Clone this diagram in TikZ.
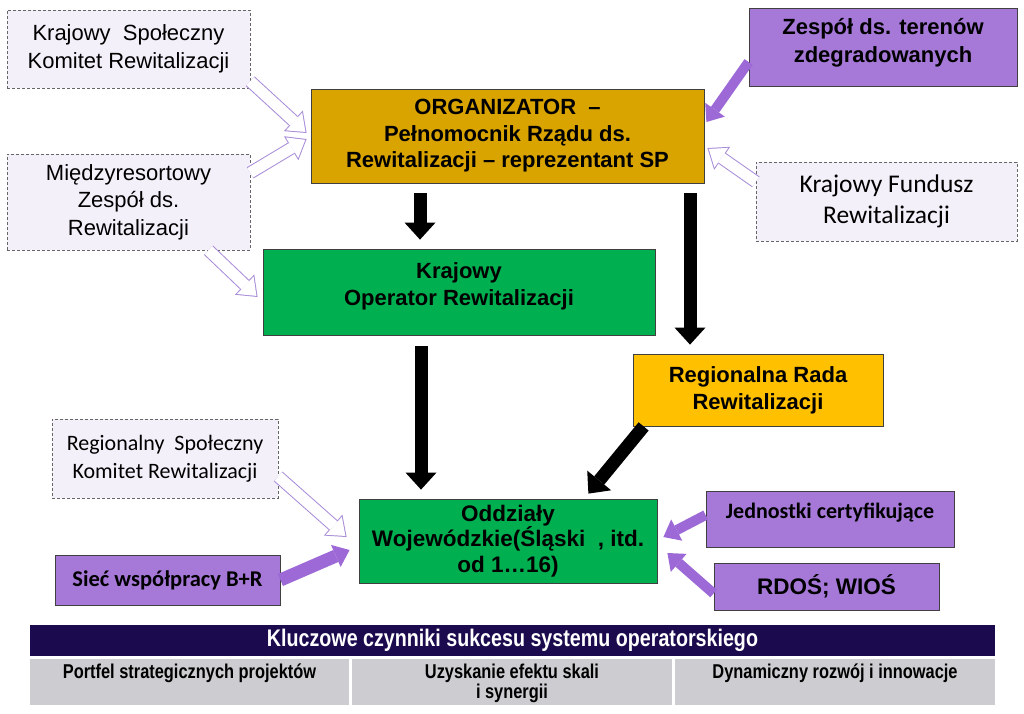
\documentclass[tikz,border=0pt]{standalone}
\usepackage{fontspec}
\setmainfont{Liberation Sans}
\newfontfamily\calibri{Carlito}
\newfontfamily\narrowsans[FakeStretch=0.82]{Liberation Sans}
\usetikzlibrary{arrows.meta}

\definecolor{lavbg}{HTML}{F4F0FA}
\definecolor{orgfill}{HTML}{D9A400}
\definecolor{greenfill}{HTML}{00B050}
\definecolor{rrrfill}{HTML}{FFC000}
\definecolor{boxpurple}{HTML}{A678D8}
\definecolor{arrpurple}{HTML}{9C69D6}
\definecolor{hollowcol}{HTML}{A88CD8}
\definecolor{navy}{HTML}{1B0A4D}
\definecolor{cellgray}{HTML}{CDCDD1}

\begin{document}
\begin{tikzpicture}[x=1pt,y=-1pt,
    box/.style={draw=black!75, line width=0.8pt, align=center, inner sep=0pt},
    dashbox/.style={draw=black!60, dash pattern=on 3pt off 2pt, fill=lavbg, align=center, inner sep=0pt},
    cell/.style={fill=cellgray, inner sep=0pt, minimum height=46pt},
    blackarr/.style={line width=13pt, -{Triangle[length=17pt,width=31pt,line width=0pt]}},
    purparr/.style={draw=arrpurple, line width=10pt, -{Triangle[length=15pt,width=24pt,line width=0pt]}},
    hollowout/.style={draw=hollowcol, line width=13pt, -{Triangle[length=18pt,width=28pt,line width=0pt]}},
    hollowin/.style={draw=white, line width=11pt, shorten >=1.6pt, -{Triangle[length=15.4pt,width=24pt,line width=0pt]}}]
\useasboundingbox (0,0) rectangle (1024,713);

% upper level
\node[dashbox, minimum width=243pt, minimum height=78pt, font=\fontsize{22}{28}\selectfont] (kskr) at (128.5,49)
    {Krajowy\ \ Społeczny\\Komitet Rewitalizacji};
\node[dashbox, minimum width=243pt, minimum height=96pt, font=\fontsize{22}{27.5}\selectfont] (mzr) at (128.5,202)
    {Międzyresortowy\\Zespół ds.\\Rewitalizacji};
\node[box, fill=orgfill, minimum width=393pt, minimum height=94pt, font=\bfseries\fontsize{22}{26.5}\selectfont] (org) at (507.5,136)
    {ORGANIZATOR\ \ –\\Pełnomocnik Rządu ds.\\Rewitalizacji – reprezentant SP};
\node[box, fill=boxpurple, minimum width=268pt, minimum height=78pt, font=\bfseries\fontsize{22}{28}\selectfont] (zesp) at (883,47)
    {\parbox[c][58pt][t]{260pt}{\centering Zespół ds. terenów\\zdegradowanych}};
\node[dashbox, minimum width=261pt, minimum height=79pt, font=\calibri\fontsize{25.5}{31}\selectfont] (kfr) at (886.5,201.5)
    {Krajowy Fundusz\\Rewitalizacji};

% operators
\node[box, fill=greenfill, minimum width=392pt, minimum height=86pt, font=\bfseries\fontsize{22}{27}\selectfont] (kor) at (459,292)
    {\parbox[c][58pt][t]{380pt}{\centering Krajowy\\Operator Rewitalizacji}};
\node[box, fill=rrrfill, minimum width=250pt, minimum height=72pt, font=\bfseries\fontsize{22}{27}\selectfont] (rrr) at (758,390)
    {Regionalna Rada\\Rewitalizacji};
\node[dashbox, minimum width=226pt, minimum height=79pt, font=\calibri\fontsize{22}{28}\selectfont] (rskr) at (165,458.5)
    {Regionalny\ \ Społeczny\\Komitet Rewitalizacji};
\node[box, fill=greenfill, minimum width=298pt, minimum height=84pt, font=\bfseries\fontsize{22.5}{25.5}\selectfont] (ow) at (508,541)
    {Oddziały\\Wojewódzkie(Śląski\ \ , itd.\\od 1…16)};
\node[box, fill=boxpurple, minimum width=225pt, minimum height=50pt, font=\calibri\bfseries\fontsize{22.5}{26}\selectfont] (siec) at (167.5,580)
    {Sieć współpracy B+R};
\node[box, fill=boxpurple, minimum width=248pt, minimum height=56pt, font=\calibri\bfseries\fontsize{22}{26}\selectfont] (jc) at (830,519)
    {\parbox[c][32pt][t]{240pt}{\centering Jednostki certyfikujące}};
\node[box, fill=boxpurple, minimum width=225pt, minimum height=47pt, font=\bfseries\fontsize{22.5}{26}\selectfont] (rdos) at (826.5,586.5)
    {RDOŚ; WIOŚ};

% table
\node[fill=navy, text=white, inner sep=0pt, minimum width=965pt, minimum height=31pt, font=\narrowsans\bfseries\fontsize{24}{26}\selectfont] (hdr) at (512.5,640.5)
    {Kluczowe czynniki sukcesu systemu operatorskiego};
\node[cell, minimum width=319pt, font=\narrowsans\bfseries\fontsize{20}{18.5}\selectfont] (c1) at (189.5,682)
    {\parbox[c][36pt][t]{310pt}{\centering Portfel strategicznych projektów}};
\node[cell, minimum width=320pt, font=\narrowsans\bfseries\fontsize{20}{18.5}\selectfont] (c2) at (512,682)
    {\parbox[c][36pt][t]{310pt}{\centering Uzyskanie efektu skali\\i synergii}};
\node[cell, minimum width=320pt, font=\narrowsans\bfseries\fontsize{20}{18.5}\selectfont] (c3) at (835,682)
    {\parbox[c][36pt][t]{310pt}{\centering Dynamiczny rozwój i innowacje}};

% black arrows
\draw[blackarr] ([xshift=-87.5pt,yshift=-10pt]org.south) -- ([xshift=-39pt,yshift=9pt]kor.north);
\draw[blackarr] ([xshift=-38pt,yshift=-11pt]kor.south) -- ([xshift=-87pt,yshift=9pt]ow.north);
\draw[blackarr] ([xshift=182.5pt,yshift=-10pt]org.south) -- ([xshift=-68pt,yshift=9pt]rrr.north);
\draw[blackarr] ([xshift=11pt]rrr.south west) -- ([xshift=-69pt,yshift=5pt]ow.north east);

% purple arrows
\draw[purparr] ([yshift=-15pt]zesp.west) -- ([xshift=2pt,yshift=14pt]org.east);
\draw[purparr, line width=13pt] (siec.east) -- ([xshift=-9pt,yshift=-9pt]ow.west);
\draw[purparr] ([yshift=4pt]jc.west) -- ([xshift=6pt,yshift=4pt]ow.east);
\draw[purparr] ([yshift=-7pt]rdos.west) -- ([xshift=10pt,yshift=-12pt]ow.east);

% hollow arrows
\draw[hollowout] ([yshift=7pt]kskr.south east) -- ([xshift=-4pt,yshift=3pt]org.west);
\draw[hollowin] ([yshift=7pt]kskr.south east) -- ([xshift=-4pt,yshift=3pt]org.west);
\draw[hollowout] ([yshift=-19pt]mzr.north east) -- ([xshift=-4pt,yshift=-3pt]org.west);
\draw[hollowin] ([yshift=-19pt]mzr.north east) -- ([xshift=-4pt,yshift=-3pt]org.west);
\draw[hollowout] ([xshift=80pt]mzr.south) -- ([xshift=-5pt,yshift=-5pt]kor.west);
\draw[hollowin] ([xshift=80pt]mzr.south) -- ([xshift=-5pt,yshift=-5pt]kor.west);
\draw[hollowout] ([yshift=-20pt]kfr.north west) -- ([xshift=3pt,yshift=-12pt]org.east);
\draw[hollowin] ([yshift=-20pt]kfr.north west) -- ([xshift=3pt,yshift=-12pt]org.east);
\draw[hollowout] ([yshift=-18pt]rskr.east) -- ([xshift=-12pt,yshift=4pt]ow.west);
\draw[hollowin] ([yshift=-18pt]rskr.east) -- ([xshift=-12pt,yshift=4pt]ow.west);
\end{tikzpicture}
\end{document}
